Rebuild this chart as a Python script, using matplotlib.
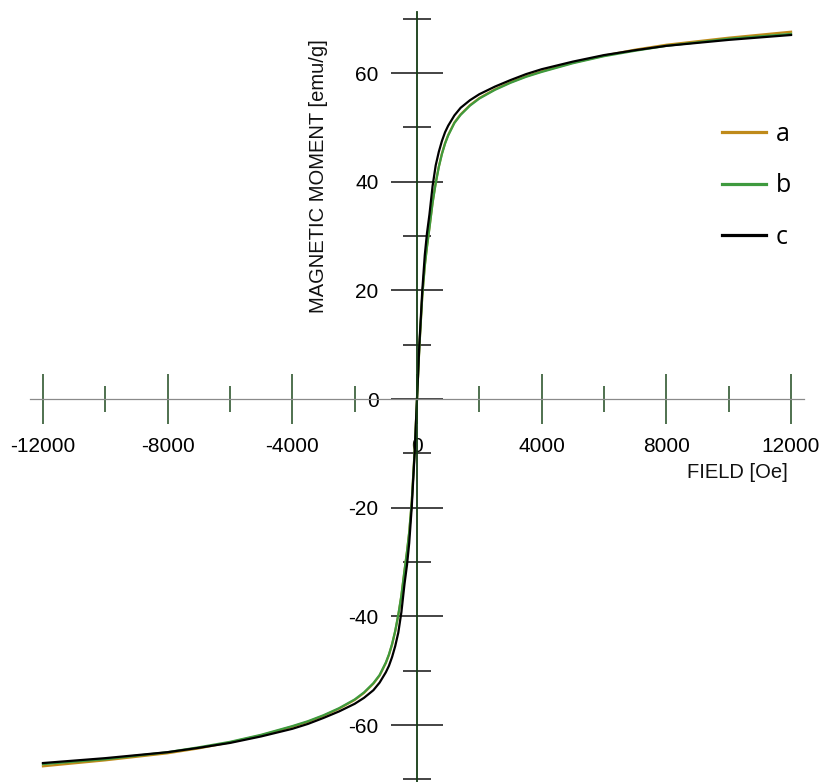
import matplotlib
matplotlib.use("Agg")
import matplotlib.pyplot as plt
from matplotlib.ticker import FixedLocator
import numpy as np

plt.rcParams['axes.unicode_minus'] = False
plt.rcParams['font.family'] = ['Liberation Sans', 'DejaVu Sans']

## data (field in Oe, moment in emu/g)
field = [-12000, -10000, -8000, -7000, -6000, -5000, -4000, -3500, -3000, -2500, -2000,
         -1700, -1400, -1200, -1000, -900, -800, -700, -600, -500, -400, -320, -250,
         -170, -75, 0,
         75, 170, 250, 320, 400, 500, 600, 700, 800, 900, 1000, 1200, 1400, 1700,
         2000, 2500, 3000, 3500, 4000, 5000, 6000, 7000, 8000, 10000, 12000]
moment_a = [-67.6, -66.5, -65.2, -64.3, -63.2, -61.9, -60.3, -59.4, -58.3, -57.0, -55.4,
            -54.1, -52.4, -50.9, -48.6, -47.1, -45.2, -42.8, -39.8, -36.2, -31.6, -28.1, -24.6,
            -19.1, -9.5, 0.0,
            9.5, 19.1, 24.6, 28.1, 31.6, 36.2, 39.8, 42.8, 45.2, 47.1, 48.6, 50.9, 52.4, 54.1,
            55.4, 57.0, 58.3, 59.4, 60.3, 61.9, 63.2, 64.3, 65.2, 66.5, 67.6]
moment_b = [-67.2, -66.3, -65.0, -64.1, -63.1, -61.8, -60.2, -59.3, -58.2, -56.9, -55.3,
            -54.0, -52.3, -50.8, -48.5, -47.0, -45.1, -42.7, -39.7, -36.1, -31.5, -28.0, -24.5,
            -19.0, -9.5, 0.0,
            9.5, 19.0, 24.5, 28.0, 31.5, 36.1, 39.7, 42.7, 45.1, 47.0, 48.5, 50.8, 52.3, 54.0,
            55.3, 56.9, 58.2, 59.3, 60.2, 61.8, 63.1, 64.1, 65.0, 66.3, 67.2]
moment_c = [-67.0, -66.1, -65.0, -64.2, -63.3, -62.1, -60.7, -59.8, -58.7, -57.5, -56.1,
            -55.0, -53.6, -52.2, -50.3, -49.1, -47.5, -45.5, -43.0, -39.2, -34.0, -30.5, -26.5,
            -20.0, -10.0, 0.0,
            10.0, 20.0, 26.5, 30.5, 34.0, 39.2, 43.0, 45.5, 47.5, 49.1, 50.3, 52.2, 53.6, 55.0,
            56.1, 57.5, 58.7, 59.8, 60.7, 62.1, 63.3, 64.2, 65.0, 66.1, 67.0]
labels = ['a', 'b', 'c']
colors = ['#BF8A1A', '#3E9A3E', '#000000']

x_major = [-12000, -8000, -4000, 0, 4000, 8000, 12000]
x_minor = [-10000, -6000, -2000, 2000, 6000, 10000]
y_major = [-60, -40, -20, 0, 20, 40, 60]
y_minor = [-70, -50, -30, -10, 10, 30, 50, 70]

fig = plt.figure(figsize=(8.22, 7.82), dpi=100)
ax = fig.add_axes([0, 0, 1, 1])
ax.patch.set_alpha(0)

for m, lab, col in zip([moment_a, moment_b, moment_c], labels, colors):
    ax.plot(field, m, color=col, lw=1.6, label=lab)

ax.set_xlim(-13378, 12993)
ax.set_ylim(-70.49, 73.44)

# spines through the origin
ax.spines['top'].set_color('none')
ax.spines['right'].set_color('none')
ax.spines['left'].set_position(('data', 0))
ax.spines['bottom'].set_position(('data', 0))
ax.spines['left'].set_bounds(-70.5, 71.2)
ax.spines['bottom'].set_bounds(-12400, 12400)
ax.spines['left'].set_color('#143c14')
ax.spines['left'].set_linewidth(1.3)
ax.spines['bottom'].set_color('#8a8a8a')
ax.spines['bottom'].set_linewidth(0.9)
ax.xaxis.set_ticks_position('bottom')
ax.yaxis.set_ticks_position('left')

ax.xaxis.set_major_locator(FixedLocator(x_major))
ax.xaxis.set_minor_locator(FixedLocator(x_minor))
ax.yaxis.set_major_locator(FixedLocator(y_major))
ax.yaxis.set_minor_locator(FixedLocator(y_minor))
ax.set_xticklabels([str(v) for v in x_major])
ax.set_yticklabels([str(v) for v in y_major])

ax.tick_params(axis='x', which='major', direction='inout', length=36.5, width=1.1,
               color='#1f4a1f', labelsize=15, pad=9)
ax.tick_params(axis='x', which='minor', direction='inout', length=18.5, width=1.1,
               color='#1f4a1f')
ax.tick_params(axis='y', which='major', direction='inout', length=37.5, width=1.1,
               color='#111111', labelsize=15, pad=9)
ax.tick_params(axis='y', which='minor', direction='inout', length=19.5, width=1.1,
               color='#111111')

fig.text(318/822, 1 - 176/782, 'MAGNETIC MOMENT [emu/g]', rotation=90,
         ha='center', va='center', fontsize=14.5, color='#111111')
fig.text(788/822, 1 - 473/782, 'FIELD [Oe]', ha='right', va='center',
         fontsize=14.5, color='#111111')

leg = ax.legend(loc='upper left', bbox_to_anchor=(712/822, 1 - 112/782),
                frameon=False, handlelength=1.75, handletextpad=0.4,
                labelspacing=1.05, borderaxespad=0,
                prop={'family': 'Open Sans', 'size': 18})
for line in leg.get_lines():
    line.set_linewidth(2.3)

fig.savefig('out.png', dpi=100)
